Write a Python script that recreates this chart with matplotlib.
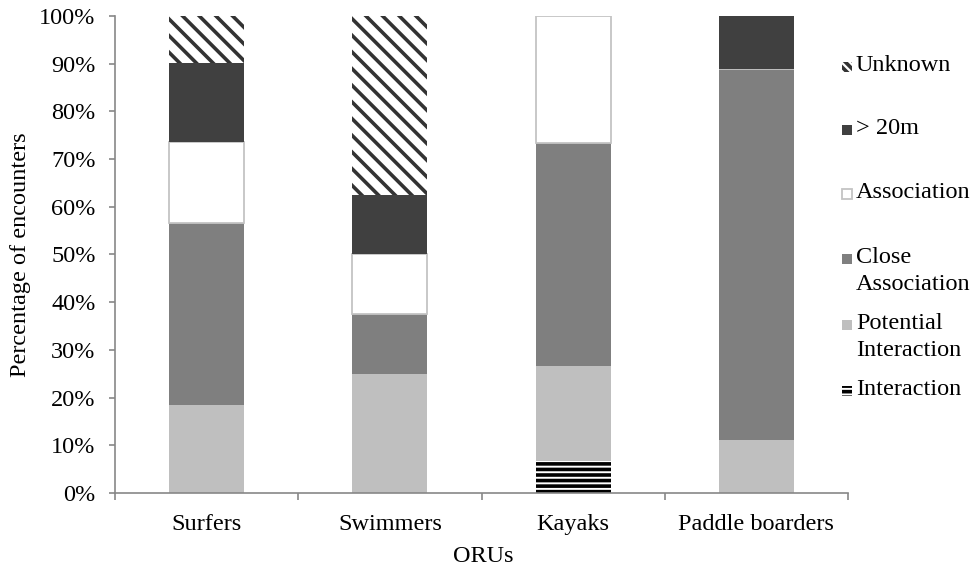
import matplotlib.pyplot as plt
from matplotlib.patches import Rectangle

plt.rcParams['font.family'] = ['Liberation Serif', 'DejaVu Serif']
plt.rcParams['hatch.linewidth'] = 2.6

# data (percent of encounters)
categories = ['Surfers', 'Swimmers', 'Kayaks', 'Paddle boarders']
interaction = [0, 0, 6.7, 0]
potential = [18.4, 25.0, 20.0, 11.1]
close_assoc = [38.1, 12.5, 46.6, 77.8]
association = [17.0, 12.5, 26.7, 0]
over_20m = [16.6, 12.5, 0, 11.1]
unknown = [9.9, 37.5, 0, 0]

series = [
    ('Interaction', interaction, dict(facecolor='white', edgecolor='black', hatch='---', linewidth=0)),
    ('Potential\nInteraction', potential, dict(facecolor='#bfbfbf', edgecolor='#bfbfbf', linewidth=0)),
    ('Close\nAssociation', close_assoc, dict(facecolor='#7f7f7f', edgecolor='#7f7f7f', linewidth=0)),
    ('Association', association, dict(facecolor='white', edgecolor='#c4c4c4', linewidth=1.3)),
    ('> 20m', over_20m, dict(facecolor='#404040', edgecolor='#404040', linewidth=0)),
    ('Unknown', unknown, dict(facecolor='white', edgecolor='#333333', hatch='\\\\', linewidth=0)),
]

fig = plt.figure(figsize=(9.74, 5.71), dpi=100)
ax = fig.add_axes([115 / 974, 1 - 493 / 571, 733 / 974, 477 / 571])

x = range(len(categories))
bottom = [0] * len(categories)
for name, vals, style in series:
    ax.bar(x, vals, width=0.41, bottom=bottom, **style)
    bottom = [b + v for b, v in zip(bottom, vals)]

ax.set_xlim(-0.5, 3.5)
ax.set_ylim(0, 100)
ax.set_yticks(range(0, 101, 10))
ax.set_yticklabels([f'{v}%' for v in range(0, 101, 10)])
ax.set_xticks(list(x))
ax.set_xticklabels(categories)
ax.set_xticks([-0.5, 0.5, 1.5, 2.5, 3.5], minor=True)
ax.tick_params(axis='x', which='major', length=0, pad=15, labelsize=17.5)
ax.tick_params(axis='x', which='minor', length=5, color='#878787', width=1.2)
ax.tick_params(axis='y', length=4, color='#878787', width=1.2, pad=10, labelsize=17.5)

for side in ['top', 'right']:
    ax.spines[side].set_visible(False)
for side in ['left', 'bottom']:
    ax.spines[side].set_color('#878787')
    ax.spines[side].set_linewidth(1.2)

fig.text(21 / 974, 1 - 255 / 571, 'Percentage of encounters', rotation=90,
         ha='center', va='center', fontsize=17.5)
fig.text(483 / 974, 1 - 556 / 571, 'ORUs', ha='center', va='center', fontsize=17.5)

# legend drawn by hand so markers sit at the first line of each label
legend_y = {'Unknown': 67, '> 20m': 130, 'Association': 194,
            'Close\nAssociation': 259, 'Potential\nInteraction': 325,
            'Interaction': 391}
for name, vals, style in series:
    y = legend_y[name]
    mstyle = dict(style)
    if name == 'Unknown':
        mstyle['hatch'] = '\\\\\\\\'
    mk = Rectangle((842 / 974, 1 - (y + 5) / 571), 10 / 974, 10 / 571,
                   transform=fig.transFigure, **mstyle)
    fig.add_artist(mk)
    fig.text(856 / 974, 1 - (y - 12) / 571, name, ha='left', va='top',
             fontsize=17.5, linespacing=1.36)

fig.savefig('out.png', dpi=100)
